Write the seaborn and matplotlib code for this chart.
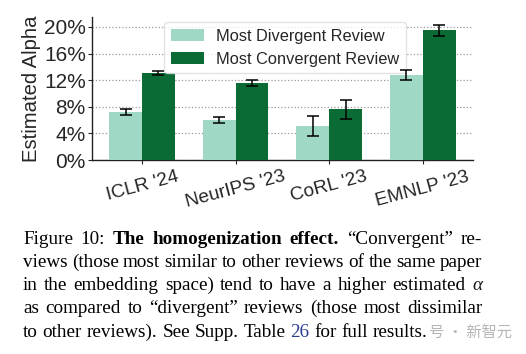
import matplotlib
matplotlib.use("Agg")
import matplotlib.pyplot as plt
from matplotlib.ticker import FuncFormatter
import numpy as np
import pandas as pd
import seaborn as sns

# Data
venues = ["ICLR '24", "NeurIPS '23", "CoRL '23", "EMNLP '23"]
divergent = [7.2, 6.0, 5.1, 12.8]
divergent_err = [0.4, 0.4, 1.5, 0.8]
convergent = [13.1, 11.6, 7.6, 19.5]
convergent_err = [0.35, 0.45, 1.4, 0.8]
series = ["Most Divergent Review", "Most Convergent Review"]
colors = ["#a0d8c6", "#0b6b35"]

df = pd.DataFrame({
    "venue": venues * 2,
    "review": [series[0]] * 4 + [series[1]] * 4,
    "alpha": divergent + convergent,
    "err": divergent_err + convergent_err,
})

sns.set_style("ticks")
plt.rcParams["font.family"] = ["Liberation Sans", "DejaVu Sans"]

fig = plt.figure(figsize=(5.26, 3.54), dpi=100)
ax = fig.add_axes([0.175, 0.548, 0.724, 0.404])

sns.barplot(data=df, x="venue", y="alpha", hue="review", palette=colors,
            width=0.7, errorbar=None, ax=ax, zorder=3, saturation=1,
            linewidth=0, edgecolor="none")

# error bars at bar centres (drawn over the legend, as in the reference)
for cont, errs in zip(ax.containers, [divergent_err, convergent_err]):
    xs = [p.get_x() + p.get_width() / 2 for p in cont.patches]
    ys = [p.get_height() for p in cont.patches]
    ax.errorbar(xs, ys, yerr=errs, fmt="none", ecolor="black",
                elinewidth=1.1, capsize=4, capthick=1.1, zorder=6)

ax.set_ylim(0, 21.5)
ax.set_yticks([0, 4, 8, 12, 16, 20])
ax.yaxis.set_major_formatter(FuncFormatter(lambda v, p: f"{v:.0f}%"))
ax.grid(axis="y", linestyle=":", color="#9a9a9a", linewidth=0.9, zorder=0)
ax.set_axisbelow(True)
sns.despine(ax=ax)
for s in ["left", "bottom"]:
    ax.spines[s].set_color("#222222")
    ax.spines[s].set_linewidth(1.0)

ax.set_xlabel("")
ax.set_ylabel("Estimated Alpha", fontsize=14.6, labelpad=2)
ax.tick_params(axis="y", labelsize=15, length=3, pad=1.5)
ax.tick_params(axis="x", labelsize=13.8, length=3, pad=3)
for lab in ax.get_xticklabels():
    lab.set_rotation(15)
    lab.set_ha("center")

leg = ax.legend(loc="upper left", bbox_to_anchor=(0.19, 0.965), fontsize=11.8,
                frameon=True, handlelength=2.0, borderpad=0.4, labelspacing=0.5,
                handletextpad=0.75, borderaxespad=0, fancybox=True, edgecolor="#dddddd")
leg.set_zorder(5)

# caption, justified line by line
serif = ["Liberation Serif", "DejaVu Serif"]
cap_lines = [
    [("Figure 10:", "normal", "black", "normal"),
     ("The homogenization effect.", "bold", "black", "normal"),
     ("\u201cConvergent\u201d re-", "normal", "black", "normal")],
    [("views (those most similar to other reviews of the same paper", "normal", "black", "normal")],
    [("in the embedding space) tend to have a higher estimated", "normal", "black", "normal"),
     ("\u03b1", "normal", "#1a1a1a", "italic")],
    [("as compared to \u201cdivergent\u201d reviews (those most dissimilar", "normal", "black", "normal")],
    [("to other reviews). See Supp. Table", "normal", "black", "normal"),
     ("26", "normal", "#2b3f8f", "normal"),
     ("for full results.", "normal", "black", "normal")],
]
cap_size = 13.8
x_left, x_right = 23, 482
baselines = [244, 267, 290, 313, 337]
W, H = fig.get_size_inches() * fig.dpi
renderer = fig.canvas.get_renderer()
x_end = x_left
for i, (line, yb) in enumerate(zip(cap_lines, baselines)):
    words = []
    for txt, weight, col, style in line:
        for w in txt.split(" "):
            words.append((w, weight, col, style))
    items = []
    for w, weight, col, style in words:
        t = fig.text(0, 1 - yb / H, w, fontsize=cap_size, family=serif,
                     weight=weight, color=col, style=style, va="baseline")
        items.append(t)
    widths = [t.get_window_extent(renderer).width for t in items]
    space = renderer.points_to_pixels(cap_size) * 0.25
    if i < len(cap_lines) - 1:
        space = (x_right - x_left - sum(widths)) / (len(items) - 1)
    x = x_left
    for t, w in zip(items, widths):
        t.set_x(x / W)
        x += w + space
    x_end = x - space

# faint watermark right after the caption's last word
fig.text((x_end + 2) / W, 1 - 337 / H, "号 · 新智元", fontsize=11, color="#b5b5b5",
         family=["Noto Sans CJK SC", "DejaVu Sans"], va="baseline")

fig.savefig("out.png", dpi=100)
